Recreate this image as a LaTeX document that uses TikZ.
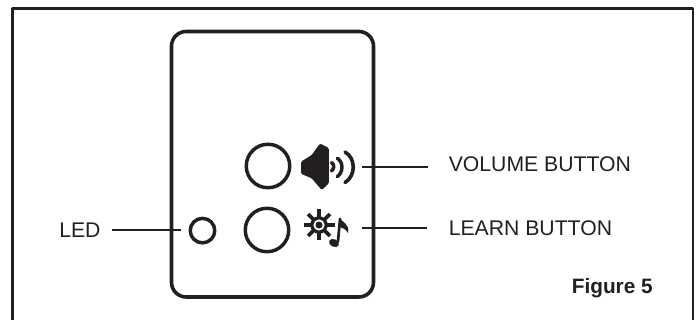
\documentclass[tikz,border=0pt]{standalone}
\usepackage{fontspec}
\setmainfont{Liberation Sans}
\definecolor{ink}{HTML}{231F20}
\tikzset{
	label text/.style={font=\fontsize{15.9}{18}\selectfont, text=ink, inner sep=0pt},
	leader/.style={draw=ink, line width=1.7pt},
	button/.style={circle, draw=ink, line width=2.6pt, inner sep=0pt, fill=white},
}
\begin{document}
\begin{tikzpicture}[x=0.75pt, y=-0.75pt, line join=round, line cap=round, color=ink]
	\useasboundingbox (0,0) rectangle (696,320);
	% frame, open at the bottom
	\draw[line width=1.8pt, line cap=butt] (12.5,320)--(12.5,8.5)--(693,8.5)--(693,320);
	% remote body
	\draw[line width=2.7pt, rounded corners=11pt] (171.5,31.5) rectangle (373.5,297);
	% buttons
	\node[button, minimum size=32.6pt] (volume) at (268,166) {};
	\node[button, minimum size=32.6pt] (learn) at (267,230) {};
	\node[button, minimum size=18.4pt] (led) at (202.5,230.6) {};
	% speaker
	\fill[rounded corners=1pt] (301,161.7)--(311.7,155)--(320,143.5)--(328.8,148)--(328.8,183.5)--(321.7,190)--(311.7,178.3)--(301,173.8)--cycle;
	\draw[line width=2.6pt] (331.5,162.5) .. controls (334.5,164.5) and (334.5,168.5) .. (331.5,171);
	\draw[line width=2.6pt] (337.3,158.3) .. controls (343.5,162) and (343.5,172) .. (337.3,176.7);
	\draw[line width=2.7pt] (345,152) .. controls (356,158) and (356,176) .. (345,182.5);
	% sun and note
	\fill (319,225) circle (8.8);
	\fill[white] (319,225) circle (5.6);
	\fill (319,225) circle (3.5);
	\foreach \a in {0,45,...,315}
	\draw[line width=2.7pt, line cap=butt] (319,225)++(\a:7)--++(\a:8.5);
	\fill[rotate around={-25:(334,243)}] (334,243) ellipse (5.2 and 3.8);
	\draw[line width=2pt] (338,241.5)--(340,219);
	\fill (339,217.5) .. controls (342,222) and (350,224) .. (348,233) .. controls (345,228) and (342,228) .. (339,227)--cycle;
	% labels
	\node[label text, anchor=west] (ledlabel) at (59,230) {LED};
	\node[label text, anchor=west] (volumelabel) at (448.5,164.5) {VOLUME BUTTON};
	\node[label text, anchor=west] (learnlabel) at (448.5,228) {LEARN BUTTON};
	\node[anchor=east, inner sep=0pt, text=ink, font=\fontsize{15.6}{18}\selectfont\bfseries] (figlabel) at (653,288) {Figure 5};
	% leaders
	\coordinate (ledend) at (181,230);
	\coordinate (volumestart) at (428,167);
	\coordinate (volumeend) at (362,167);
	\coordinate (learnend) at (362,228);
	\draw[leader, line cap=butt] (ledlabel.east)++(11,0)--(ledend);
	\draw[leader, line cap=butt] (volumestart)--(volumeend);
	\draw[leader, line cap=butt] (learnlabel.west)++(-22,0)--(learnend);
\end{tikzpicture}
\end{document}
